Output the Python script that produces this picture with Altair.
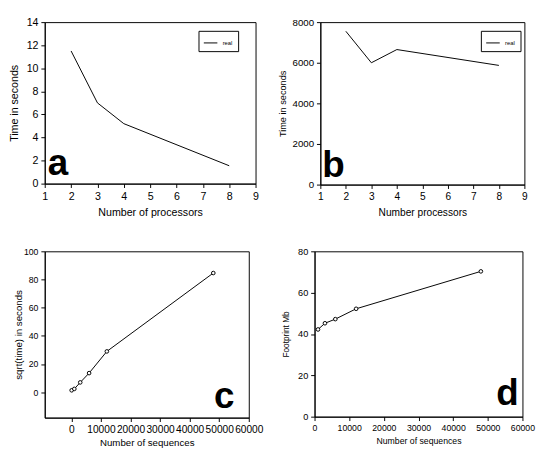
import altair as alt
import pandas as pd

# ---------------- data ----------------
series_name = "real"

# panel a : time vs processors
a_procs = [2, 3, 4, 8]
a_time = [11.5, 7.0, 5.2, 1.55]

# panel b : time vs processors
b_procs = [2, 3, 4, 8]
b_time = [7550, 6000, 6650, 5870]

# panel c : sqrt(time) vs number of sequences
c_seqs = [100, 1000, 3000, 6000, 12000, 48000]
c_sqrt_time = [1.4, 2.4, 7.0, 13.6, 29.0, 84.6]

# panel d : memory footprint vs number of sequences
d_seqs = [1000, 3000, 6000, 12000, 48000]
d_footprint = [42.2, 45.2, 47.2, 52.2, 70.3]

proc_ticks = [1, 2, 3, 4, 5, 6, 7, 8, 9]
a_yticks = [0, 2, 4, 6, 8, 10, 12, 14]
b_yticks = [0, 2000, 4000, 6000, 8000]
seq_ticks = [0, 10000, 20000, 30000, 40000, 50000, 60000]
c_yticks = [0, 20, 40, 60, 80, 100]
d_yticks = [0, 20, 40, 60, 80]

FONT = "Liberation Sans"


def axis(title, values, label_size, title_size, title_pad, label_pad=3):
    return alt.Axis(
        title=title, values=values, format="d", grid=False,
        labelFontSize=label_size, titleFontSize=title_size,
        titlePadding=title_pad, labelPadding=label_pad, tickSize=4,
        domainColor="black", tickColor="black", labelColor="black",
        titleColor="black", titleFontWeight="normal", labelFlush=False,
        labelOverlap=False, labelFont=FONT, titleFont=FONT,
    )


def letter(ch, x, y):
    return alt.Chart(pd.DataFrame({"label": [ch]})).mark_text(
        font=FONT, fontSize=38, fontWeight="bold", align="left",
        baseline="alphabetic", color="black"
    ).encode(text="label:N", x=alt.value(x), y=alt.value(y))


def legend(lx, ly):
    return alt.Legend(
        title=None, orient="none", legendX=lx, legendY=ly,
        strokeColor="black", fillColor="white", padding=5,
        labelFontSize=6, labelFont=FONT, labelColor="black",
        symbolType="stroke", symbolSize=196, symbolStrokeWidth=1,
        symbolStrokeColor="black", labelOffset=5,
    )


# ---------------- panel a ----------------
df_a = pd.DataFrame({"procs": a_procs, "time": a_time,
                     "series": [series_name] * len(a_procs)})
line_a = alt.Chart(df_a).mark_line(strokeWidth=1).encode(
    x=alt.X("procs:Q", scale=alt.Scale(domain=[1, 9], nice=False),
            axis=axis("Number of processors", proc_ticks, 11, 11, 6)),
    y=alt.Y("time:Q", scale=alt.Scale(domain=[0, 14], nice=False),
            axis=axis("Time in seconds", a_yticks, 11, 11, 7)),
    color=alt.Color("series:N", scale=alt.Scale(range=["black"]),
                    legend=legend(159, 9)),
)
panel_a = alt.layer(line_a, letter("a", 3, 158)).properties(width=218, height=167)

# ---------------- panel b ----------------
df_b = pd.DataFrame({"procs": b_procs, "time": b_time,
                     "series": [series_name] * len(b_procs)})
line_b = alt.Chart(df_b).mark_line(strokeWidth=1).encode(
    x=alt.X("procs:Q", scale=alt.Scale(domain=[1, 9], nice=False),
            axis=axis("Number processors", proc_ticks, 10.5, 10.5, 6)),
    y=alt.Y("time:Q", scale=alt.Scale(domain=[0, 8000], nice=False),
            axis=axis("Time in seconds", b_yticks, 10, 9.5, 5)),
    color=alt.Color("series:N", scale=alt.Scale(range=["black"]),
                    legend=legend(166, 9)),
)
panel_b = alt.layer(line_b, letter("b", 2, 160)).properties(width=211, height=168)

# ---------------- panel c ----------------
df_c = pd.DataFrame({"seqs": c_seqs, "val": c_sqrt_time})
xc = alt.X("seqs:Q", scale=alt.Scale(domain=[-9000, 60000], nice=False),
           axis=axis("Number of sequences", seq_ticks, 10.5, 10, 3))
yc = alt.Y("val:Q", scale=alt.Scale(domain=[-18, 100], nice=False),
           axis=axis("sqrt(time) in seconds", c_yticks, 9, 10, 0))
line_c = alt.Chart(df_c).mark_line(strokeWidth=1, color="black").encode(x=xc, y=yc)
pts_c = alt.Chart(df_c).mark_point(shape="circle", size=14, filled=True,
                                   fill="white", stroke="black",
                                   strokeWidth=1, opacity=1).encode(x=xc, y=yc)
panel_c = alt.layer(line_c, pts_c, letter("c", 175, 162)).properties(width=211, height=172)

# ---------------- panel d ----------------
df_d = pd.DataFrame({"seqs": d_seqs, "val": d_footprint})
xd = alt.X("seqs:Q", scale=alt.Scale(domain=[0, 60000], nice=False),
           axis=axis("Number of sequences", seq_ticks, 9, 9, 5))
yd = alt.Y("val:Q", scale=alt.Scale(domain=[0, 80], nice=False),
           axis=axis("Footprint  Mb", d_yticks, 9.5, 8.5, 7))
line_d = alt.Chart(df_d).mark_line(strokeWidth=1, color="black").encode(x=xd, y=yd)
pts_d = alt.Chart(df_d).mark_point(shape="circle", size=14, filled=True,
                                   fill="white", stroke="black",
                                   strokeWidth=1, opacity=1).encode(x=xd, y=yd)
panel_d = alt.layer(line_d, pts_d, letter("d", 188, 159)).properties(width=215, height=171)

row1 = alt.hconcat(panel_a, panel_b, spacing=18).resolve_scale(
    color="independent").resolve_legend(color="independent")
row2 = alt.hconcat(panel_c, panel_d, spacing=17)

chart = alt.vconcat(row1, row2, spacing=28).properties(
    padding={"left": 0, "top": 0, "right": 0, "bottom": 0},
    autosize=alt.AutoSizeParams(type="pad"),
).configure(font=FONT).configure_view(stroke="black", strokeWidth=1)

chart.save("out.html", embed_options={"renderer": "svg", "actions": False})
